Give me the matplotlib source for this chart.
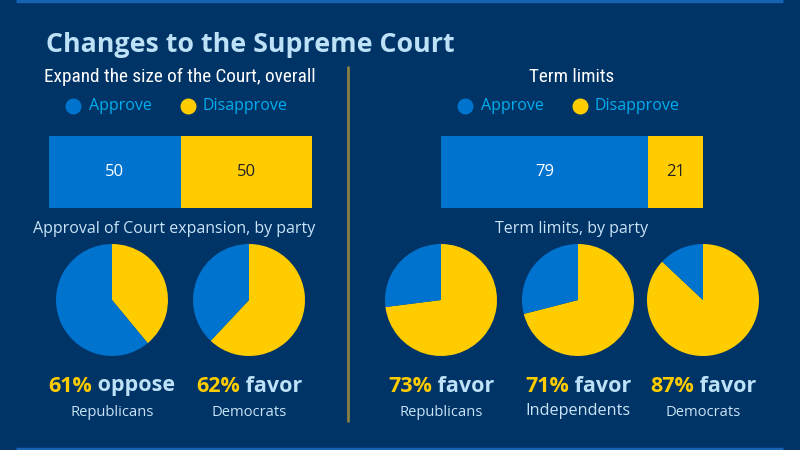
import matplotlib
matplotlib.use("Agg")
import matplotlib.pyplot as plt
from matplotlib.lines import Line2D
from matplotlib import font_manager

# ---------------- data ----------------
title = "Changes to the Supreme Court"
series = ["Approve", "Disapprove"]

left_title = "Expand the size of the Court, overall"
left_overall = [50, 50]
left_sub = "Approval of Court expansion, by party"
left_groups = ["Republicans", "Democrats"]
left_approve = [39, 62]       # yellow wedge share
left_other = [61, 38]         # blue wedge share
left_pct = ["61%", "62%"]
left_word = ["oppose", "favor"]

right_title = "Term limits"
right_overall = [79, 21]
right_sub = "Term limits, by party"
right_groups = ["Republicans", "Independents", "Democrats"]
right_favor = [73, 71, 87]
right_other = [27, 29, 13]
right_pct = ["73%", "71%", "87%"]
right_word = ["favor", "favor", "favor"]

# ---------------- style ----------------
BG = "#003366"
BLUE = "#0073CF"
YELLOW = "#FFCC00"
TITLE_C = "#BDE2F7"
LEG_C = "#00AEEF"
SUB_C = "#C9E4F6"
DIV_C = "#8A8040"
LINE_C = "#1763B3"
W, H = 800, 450

fig = plt.figure(figsize=(8, 4.5), dpi=100, facecolor=BG)
main = fig.add_axes([0, 0, 1, 1])
main.set_xlim(0, W)
main.set_ylim(H, 0)
main.axis("off")
main.set_facecolor(BG)

OS = ["Open Sans", "DejaVu Sans"]
# look for a condensed face
names = {f.name for f in font_manager.fontManager.ttflist}
cond_stretch = {f.name: f.stretch for f in font_manager.fontManager.ttflist}
COND = None
for cand in ["Roboto Condensed", "Open Sans Condensed", "Liberation Sans Narrow",
             "DejaVu Sans Condensed"]:
    if cand in names:
        COND = cand
        break
cond_kw = {}
if COND is None:
    has_dv_cond = any(f.name == "DejaVu Sans" and f.stretch == "condensed"
                      for f in font_manager.fontManager.ttflist)
    if has_dv_cond:
        cond_kw = dict(family="DejaVu Sans", stretch="condensed")
    else:
        cond_kw = dict(family=OS)
else:
    cond_kw = dict(family=COND)

# frame lines
main.plot([16, 783], [1, 1], color=LINE_C, lw=2.5, solid_capstyle="butt")
main.plot([16, 783], [448.5, 448.5], color=LINE_C, lw=2.5, solid_capstyle="butt")
main.plot([348, 348], [66, 422], color=DIV_C, lw=2, solid_capstyle="butt")

main.text(46, 45, title, family=OS, weight="bold", fontsize=19.3, color=TITLE_C,
          ha="left", va="center")


def px_axes(x0, y0, x1, y1):
    return fig.add_axes([x0 / W, 1 - y1 / H, (x1 - x0) / W, (y1 - y0) / H])


def legend(cx_list, tx_list, y):
    for cx, tx, lab, col in zip(cx_list, tx_list, series, [BLUE, YELLOW]):
        main.add_line(Line2D([cx], [y], marker="o", markersize=11.5, color=col,
                             markeredgewidth=0))
        main.text(tx, y, lab, family=OS, fontsize=11.5, color=LEG_C,
                  ha="left", va="center")


def bar(x0, x1, vals):
    ax = px_axes(x0, 136, x1, 208)
    ax.set_xlim(0, sum(vals))
    ax.set_ylim(-0.5, 0.5)
    ax.axis("off")
    left = 0
    for v, col, tc in zip(vals, [BLUE, YELLOW], ["white", "#222222"]):
        ax.barh(0, v, left=left, height=1, color=col, edgecolor="none")
        ax.text(left + v / 2, 0, str(v), family=OS, fontsize=12, color=tc,
                ha="center", va="center")
        left += v


def pie(cx, fav, oth):
    r = 56
    ax = px_axes(cx - r, 300 - r, cx + r, 300 + r)
    ax.pie([fav, oth], colors=[YELLOW, BLUE], startangle=90, counterclock=False,
           radius=1, wedgeprops=dict(linewidth=0))
    ax.set_xlim(-1, 1)
    ax.set_ylim(-1, 1)
    ax.axis("off")


renderer = fig.canvas.get_renderer()


def fit_text(x, y, s, target_w, size, **kw):
    t = main.text(x, y, s, fontsize=size, **kw)
    w = t.get_window_extent(renderer).width
    if w > target_w:
        t.set_fontsize(size * target_w / w)
    return t


def two_tone(cx, y, pct, word):
    t1 = main.text(0, y, pct, family=OS, weight="bold", fontsize=15.5,
                   color=YELLOW, ha="left", va="center")
    t2 = main.text(0, y, " " + word, family=OS, weight="bold", fontsize=15.5,
                   color=TITLE_C, ha="left", va="center")
    w1 = t1.get_window_extent(renderer).width
    w2 = t2.get_window_extent(renderer).width
    x0 = cx - (w1 + w2) / 2
    t1.set_x(x0)
    t2.set_x(x0 + w1)


# ---- left panel ----
fit_text(180, 77, left_title, 274, 16, color="white", ha="center",
         va="center", **cond_kw)
legend([73, 188], [89, 203], 106)
bar(49, 312, left_overall)
main.text(174, 229, left_sub, family=OS, fontsize=11.5, color=SUB_C,
          ha="center", va="center")
left_cx = [112, 249]
for cx, a, o, p, w, g in zip(left_cx, left_approve, left_other, left_pct,
                             left_word, left_groups):
    pie(cx, a, o)
    two_tone(cx, 386, p, w)
    main.text(cx, 413, g, family=OS, fontsize=10.6, color=SUB_C,
              ha="center", va="center")

# ---- right panel ----
fit_text(572, 77, right_title, 86, 16, color="white", ha="center",
         va="center", **cond_kw)
legend([465, 580], [481, 595], 106)
bar(441, 703, right_overall)
main.text(572, 229, right_sub, family=OS, fontsize=11.5, color=SUB_C,
          ha="center", va="center")
right_cx = [441, 578, 703]
for cx, a, o, p, w, g in zip(right_cx, right_favor, right_other, right_pct,
                             right_word, right_groups):
    pie(cx, a, o)
    two_tone(cx, 386, p, w)
    ind = g == "Independents"
    main.text(cx, 411 if ind else 413, g, family=OS,
              fontsize=11.7 if ind else 10.6, color=SUB_C,
              ha="center", va="center")

fig.savefig("out.png", dpi=100, facecolor=BG)
